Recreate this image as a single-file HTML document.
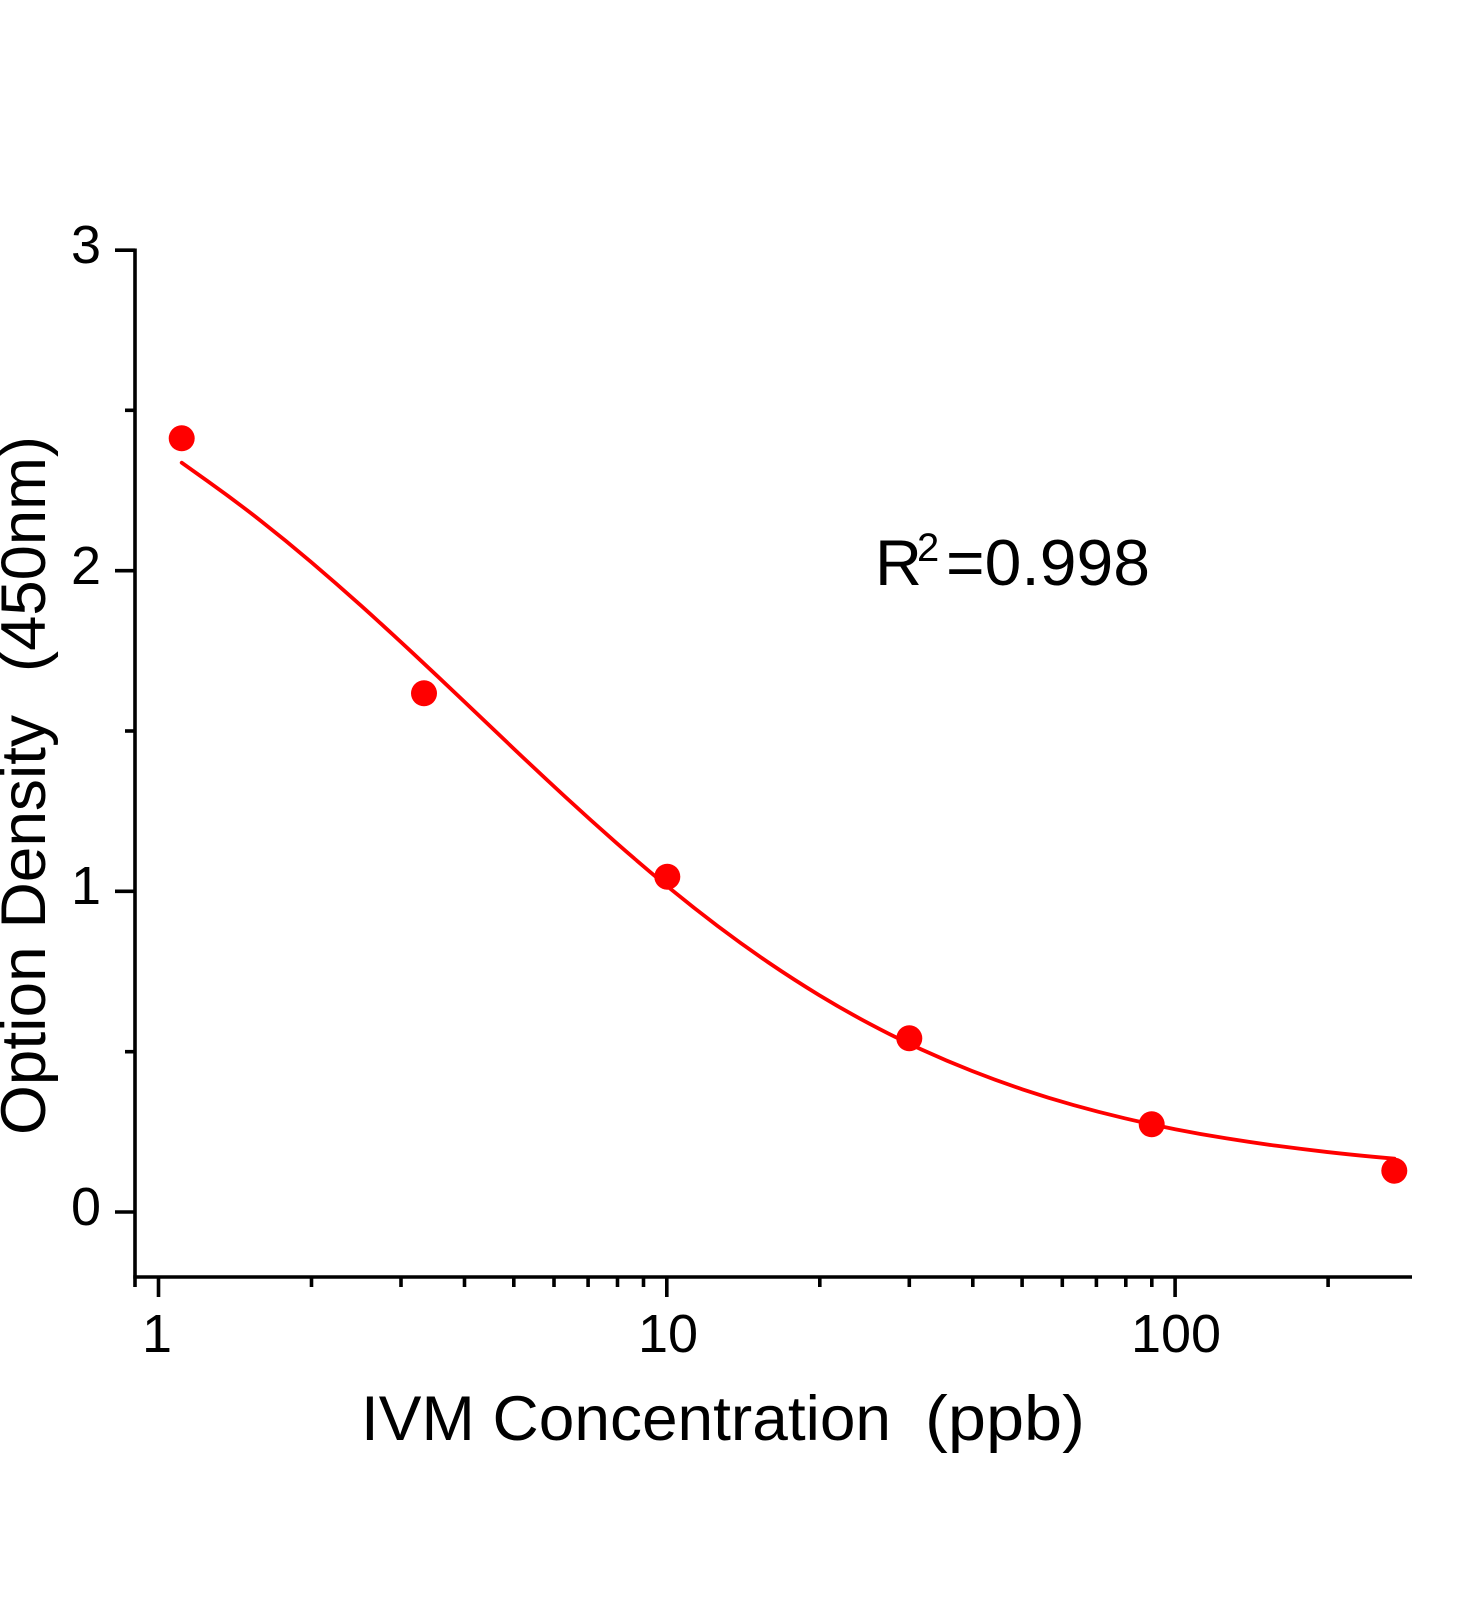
<!DOCTYPE html>
<html>
<head>
<meta charset="utf-8">
<style>
  html, body { margin: 0; padding: 0; background: #ffffff; }
  body { width: 1472px; height: 1600px; overflow: hidden; }
  svg { display: block; }
  text { font-family: "Liberation Sans", "Noto Sans CJK SC", sans-serif; fill: #000; }
</style>
</head>
<body>
<svg width="1472" height="1600" viewBox="0 0 1472 1600" xmlns="http://www.w3.org/2000/svg">
  <rect x="0" y="0" width="1472" height="1600" fill="#ffffff"/>

  <!-- Axes -->
  <g stroke="#000" stroke-width="3.6" fill="none" stroke-linecap="butt">
    <line x1="135" y1="248.5" x2="135" y2="1287"/>
    <line x1="133.3" y1="1277" x2="1412" y2="1277"/>

    <!-- Y major ticks -->
    <line x1="115" y1="1212" x2="135" y2="1212"/>
    <line x1="115" y1="891.3" x2="135" y2="891.3"/>
    <line x1="115" y1="570.7" x2="135" y2="570.7"/>
    <line x1="115" y1="250.2" x2="135" y2="250.2"/>
    <!-- Y minor ticks -->
    <line x1="125" y1="1051.7" x2="135" y2="1051.7"/>
    <line x1="125" y1="731" x2="135" y2="731"/>
    <line x1="125" y1="410.3" x2="135" y2="410.3"/>

    <!-- X major ticks -->
    <line x1="158.5" y1="1277" x2="158.5" y2="1297"/>
    <line x1="666.8" y1="1277" x2="666.8" y2="1297"/>
    <line x1="1175.1" y1="1277" x2="1175.1" y2="1297"/>
    <!-- X minor ticks -->
    <line x1="311.5" y1="1277" x2="311.5" y2="1287"/>
    <line x1="401.0" y1="1277" x2="401.0" y2="1287"/>
    <line x1="464.5" y1="1277" x2="464.5" y2="1287"/>
    <line x1="513.8" y1="1277" x2="513.8" y2="1287"/>
    <line x1="554.0" y1="1277" x2="554.0" y2="1287"/>
    <line x1="588.1" y1="1277" x2="588.1" y2="1287"/>
    <line x1="617.5" y1="1277" x2="617.5" y2="1287"/>
    <line x1="643.5" y1="1277" x2="643.5" y2="1287"/>
    <line x1="819.8" y1="1277" x2="819.8" y2="1287"/>
    <line x1="909.3" y1="1277" x2="909.3" y2="1287"/>
    <line x1="972.8" y1="1277" x2="972.8" y2="1287"/>
    <line x1="1022.1" y1="1277" x2="1022.1" y2="1287"/>
    <line x1="1062.3" y1="1277" x2="1062.3" y2="1287"/>
    <line x1="1096.4" y1="1277" x2="1096.4" y2="1287"/>
    <line x1="1125.8" y1="1277" x2="1125.8" y2="1287"/>
    <line x1="1151.8" y1="1277" x2="1151.8" y2="1287"/>
    <line x1="1328.1" y1="1277" x2="1328.1" y2="1287"/>
  </g>

  <!-- Y tick labels -->
  <g font-size="54" text-anchor="end">
    <text x="101" y="1225">0</text>
    <text x="101" y="904">1</text>
    <text x="101" y="584">2</text>
    <text x="101" y="263">3</text>
  </g>

  <!-- X tick labels -->
  <g font-size="54" text-anchor="middle">
    <text x="157" y="1352">1</text>
    <text x="668" y="1352">10</text>
    <text x="1176" y="1352">100</text>
  </g>

  <!-- X axis title -->
  <text x="361" y="1440" font-size="63" textLength="530" lengthAdjust="spacingAndGlyphs">IVM Concentration</text>
  <text x="925" y="1440" font-size="63" textLength="160" lengthAdjust="spacingAndGlyphs">(ppb)</text>

  <!-- Y axis title -->
  <text transform="translate(45,1135) rotate(-90)" x="0" y="0" font-size="63" textLength="420" lengthAdjust="spacingAndGlyphs">Option Density</text>
  <text transform="translate(45,1135) rotate(-90)" x="463" y="0" font-size="63" textLength="236" lengthAdjust="spacingAndGlyphs">(450nm)</text>

  <!-- R^2 annotation -->
  <text x="875" y="585" font-size="65">R</text>
  <text x="917" y="561" font-size="40">2</text>
  <text x="946" y="585" font-size="65" textLength="204" lengthAdjust="spacingAndGlyphs">=0.998</text>

  <!-- Fit curve -->
  <path fill="none" stroke="#ff0000" stroke-width="3.8" stroke-linejoin="round" stroke-linecap="round"
    d="M181.7,462.7 L208.2,481.55
       Q234.7,500.4 260.15,520.35
       Q285.6,540.3 311.0,561.9
       Q336.4,583.5 361.8,606.35
       Q387.2,629.2 412.65,652.95
       Q438.1,676.7 463.5,700.9
       Q488.9,725.1 514.3,749.2
       Q539.7,773.3 565.15,796.75
       Q590.6,820.2 616.0,842.55
       Q641.4,864.9 666.8,885.85
       Q692.2,906.8 717.6,926.0
       Q743.0,945.2 768.45,962.5
       Q793.9,979.8 819.3,995.2
       Q844.7,1010.6 870.1,1024.1
       Q895.5,1037.6 920.95,1049.25
       Q946.4,1060.9 971.8,1070.9
       Q997.2,1080.9 1022.6,1089.4
       Q1048.0,1097.9 1073.45,1105.05
       Q1098.9,1112.2 1124.3,1118.2
       Q1149.7,1124.2 1175.1,1129.2
       Q1200.5,1134.2 1225.9,1138.3
       Q1251.3,1142.4 1276.75,1145.8
       Q1302.2,1149.2 1327.6,1152.05
       Q1353.0,1154.9 1373.7,1156.8
       L1394.4,1158.7"/>

  <!-- Data points -->
  <g fill="#ff0000">
    <circle cx="181.7" cy="438.3" r="13"/>
    <circle cx="424" cy="693.3" r="13"/>
    <circle cx="667.3" cy="876.7" r="13"/>
    <circle cx="909.3" cy="1038.3" r="13"/>
    <circle cx="1151.7" cy="1124.3" r="13"/>
    <circle cx="1394.3" cy="1170.7" r="13"/>
  </g>
</svg>
</body>
</html>
